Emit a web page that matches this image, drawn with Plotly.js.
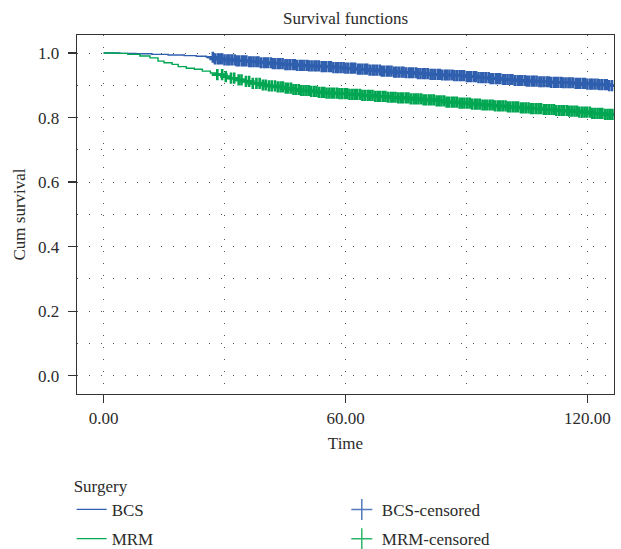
<!DOCTYPE html>
<html>
<head>
<meta charset="utf-8">
<script src="https://cdn.plot.ly/plotly-3.0.1.min.js"></script>
<style>html,body{margin:0;padding:0;background:#fff;}#chart{width:621px;height:549px;}</style>
</head>
<body>
<div id="chart"></div>
<script>
// Kaplan-Meier step points
var bcsTime = [0, 4, 8, 12, 16, 20, 23, 25.5, 27.5, 30, 33, 36, 39, 42, 45, 48, 51, 54, 57, 60, 63, 66, 69, 72, 75, 78, 81, 84, 87, 90, 93, 96, 99, 102, 105, 108, 111, 114, 117, 120, 123, 125, 126.4];
var bcsSurv = [1.0, 0.999, 0.998, 0.996, 0.994, 0.992, 0.990, 0.987, 0.982, 0.979, 0.976, 0.973, 0.970, 0.967, 0.964, 0.962, 0.960, 0.958, 0.955, 0.953, 0.950, 0.947, 0.944, 0.941, 0.939, 0.936, 0.934, 0.932, 0.930, 0.927, 0.924, 0.921, 0.918, 0.915, 0.913, 0.911, 0.909, 0.908, 0.906, 0.904, 0.902, 0.899, 0.897];

var mrmTime = [0, 3, 6, 9, 11.5, 13.5, 15, 17, 18.5, 20.5, 22.5, 24.5, 26.5, 28, 29.5, 31, 33, 35, 37, 39, 41, 43, 45, 47, 49, 51, 53, 55, 58, 61, 64, 67, 70, 73, 76, 79, 82, 85, 88, 91, 94, 97, 100, 103, 106, 109, 112, 115, 118, 121, 124, 126.4];
var mrmSurv = [1.0, 0.999, 0.996, 0.991, 0.985, 0.975, 0.970, 0.965, 0.958, 0.953, 0.950, 0.944, 0.938, 0.933, 0.927, 0.922, 0.917, 0.912, 0.906, 0.901, 0.898, 0.895, 0.891, 0.887, 0.884, 0.881, 0.878, 0.876, 0.874, 0.872, 0.869, 0.866, 0.863, 0.861, 0.858, 0.855, 0.852, 0.848, 0.845, 0.842, 0.839, 0.836, 0.833, 0.830, 0.828, 0.825, 0.822, 0.820, 0.817, 0.813, 0.810, 0.806];

// Censoring times (very dense bands)
var bcsCensor = [27.1, 27.6, 28.3, 28.8, 29.4, 30.0, 30.7, 31.2, 31.8, 32.5, 33.0, 33.6, 34.3, 34.8, 35.4, 36.1, 36.6, 37.2, 37.9, 38.4, 39.0, 39.7, 40.2, 40.8, 41.5, 42.0, 42.6, 43.3, 43.8, 44.4, 45.1, 45.6, 46.2, 46.9, 47.4, 48.0, 48.7, 49.2, 49.8, 50.5, 51.0, 51.6, 52.3, 52.8, 53.4, 54.1, 54.6, 55.2, 55.9, 56.4, 57.0, 57.7, 58.2, 58.8, 59.5, 60.0, 60.6, 61.3, 61.8, 62.4, 63.1, 63.6, 64.2, 64.9, 65.4, 66.0, 66.7, 67.2, 67.8, 68.5, 69.0, 69.6, 70.3, 70.8, 71.4, 72.1, 72.6, 73.2, 73.9, 74.4, 75.0, 75.7, 76.2, 76.8, 77.5, 78.0, 78.6, 79.3, 79.8, 80.4, 81.1, 81.6, 82.2, 82.9, 83.4, 84.0, 84.7, 85.2, 85.8, 86.5, 87.0, 87.6, 88.3, 88.8, 89.4, 90.1, 90.6, 91.2, 91.9, 92.4, 93.0, 93.7, 94.2, 94.8, 95.5, 96.0, 96.6, 97.3, 97.8, 98.4, 99.1, 99.6, 100.2, 100.9, 101.4, 102.0, 102.7, 103.2, 103.8, 104.5, 105.0, 105.6, 106.3, 106.8, 107.4, 108.1, 108.6, 109.2, 109.9, 110.4, 111.0, 111.7, 112.2, 112.8, 113.5, 114.0, 114.6, 115.3, 115.8, 116.4, 117.1, 117.6, 118.2, 118.9, 119.4, 120.0, 120.7, 121.2, 121.8, 122.5, 123.0, 123.6, 124.3, 124.8, 125.4, 126.1];
var mrmCensor = [28.2, 29.4, 30.3, 31.6, 32.4, 33.5, 34.2, 35.3, 36.1, 37.0, 37.9, 38.7, 39.5, 40.2, 41.0, 41.7, 42.5, 43.2, 43.9, 44.5, 45.2, 45.8, 46.5, 47.1, 47.7, 48.4, 49.0, 49.6, 50.3, 50.9, 51.5, 52.2, 52.8, 53.4, 54.1, 54.7, 55.3, 56.0, 56.6, 57.2, 57.9, 58.5, 59.1, 59.8, 60.4, 61.0, 61.7, 62.3, 62.9, 63.6, 64.2, 64.8, 65.5, 66.1, 66.7, 67.4, 68.0, 68.6, 69.3, 69.9, 70.5, 71.2, 71.8, 72.4, 73.1, 73.7, 74.3, 75.0, 75.6, 76.2, 76.9, 77.5, 78.1, 78.8, 79.4, 80.0, 80.7, 81.3, 81.9, 82.6, 83.2, 83.8, 84.5, 85.1, 85.7, 86.4, 87.0, 87.6, 88.3, 88.9, 89.5, 90.2, 90.8, 91.4, 92.1, 92.7, 93.3, 94.0, 94.6, 95.2, 95.9, 96.5, 97.1, 97.8, 98.4, 99.0, 99.7, 100.3, 100.9, 101.6, 102.2, 102.8, 103.5, 104.1, 104.7, 105.4, 106.0, 106.6, 107.3, 107.9, 108.5, 109.2, 109.8, 110.4, 111.1, 111.7, 112.3, 113.0, 113.6, 114.2, 114.9, 115.5, 116.1, 116.8, 117.4, 118.0, 118.7, 119.3, 119.9, 120.6, 121.2, 121.8, 122.5, 123.1, 123.7, 124.4, 125.0, 125.6, 126.2];

var seriesNames = ['BCS', 'MRM'];
var legendTitle = 'Surgery';
var xTickVals = [0, 60, 120];
var yTickVals = [0, 0.2, 0.4, 0.6, 0.8, 1.0];

// KM value at time t = survival of the last step at or before t
function stepAt(times, surv, t) {
  var v = surv[0];
  for (var i = 0; i < times.length; i++) { if (times[i] <= t) v = surv[i]; }
  return v;
}
function censorY(times, surv, cens) { return cens.map(function (t) { return stepAt(times, surv, t); }); }

var blue = '#2f5fae';
var green = '#00a651';
var blueLeg = '#5579bd';
var greenLeg = '#2db56a';
var font = 'Liberation Serif, Times New Roman, serif';
var fs = 17;
var txt = '#2b2b2b';

var traces = [
  {x: bcsTime, y: bcsSurv, name: seriesNames[0], legend: 'legend', mode: 'lines', line: {shape: 'hv', color: blue, width: 1.4}, type: 'scatter'},
  {x: bcsCensor, y: censorY(bcsTime, bcsSurv, bcsCensor), name: seriesNames[0] + '-censored', showlegend: false, mode: 'markers',
   marker: {symbol: 'cross-thin', size: 8, line: {color: blue, width: 2.6}, color: blue}, type: 'scatter'},
  {x: [null], y: [null], name: seriesNames[0] + '-censored', legend: 'legend', mode: 'markers',
   marker: {symbol: 'cross-thin', size: 15, line: {color: blueLeg, width: 1.5}, color: blueLeg}, type: 'scatter'},
  {x: mrmTime, y: mrmSurv, name: seriesNames[1], legend: 'legend2', mode: 'lines', line: {shape: 'hv', color: green, width: 1.4}, type: 'scatter'},
  {x: mrmCensor, y: censorY(mrmTime, mrmSurv, mrmCensor), name: seriesNames[1] + '-censored', showlegend: false, mode: 'markers',
   marker: {symbol: 'cross-thin', size: 8, line: {color: green, width: 2.6}, color: green}, type: 'scatter'},
  {x: [null], y: [null], name: seriesNames[1] + '-censored', legend: 'legend2', mode: 'markers',
   marker: {symbol: 'cross-thin', size: 15, line: {color: greenLeg, width: 1.5}, color: greenLeg}, type: 'scatter'}
];

var gridColor = '#555';
var gridDash = '1px,11px';

function legendBox(y, title) {
  var l = {
    orientation: 'h', x: -0.01, xanchor: 'left', xref: 'paper', y: y, yanchor: 'top', yref: 'paper',
    entrywidth: 0.44, entrywidthmode: 'fraction',
    font: {family: font, size: fs, color: txt},
    bgcolor: 'rgba(0,0,0,0)', borderwidth: 0, itemwidth: 30, traceorder: 'normal'
  };
  if (title) l.title = {text: title, side: 'top', font: {family: font, size: fs, color: txt}};
  return l;
}

var layout = {
  width: 621, height: 549,
  margin: {l: 77, r: 7, t: 35, b: 155, autoexpand: false},
  paper_bgcolor: '#fff', plot_bgcolor: '#fff',
  font: {family: font, size: fs, color: txt},
  title: {text: 'Survival functions', x: 0.5, xref: 'paper', xanchor: 'center', y: 1 - 18 / 549, yref: 'container', yanchor: 'middle', font: {family: font, size: fs, color: txt}},
  xaxis: {
    range: [-6.6, 126.6], tickvals: xTickVals, tickformat: '.2f',
    showline: true, linecolor: '#333', linewidth: 1.3, mirror: true,
    ticks: 'outside', ticklen: 8, tickcolor: '#333', tickwidth: 1.2,
    showgrid: true, gridcolor: gridColor, gridwidth: 1, griddash: gridDash,
    minor: {tickvals: [30, 90], showgrid: true, gridcolor: gridColor, gridwidth: 1, griddash: gridDash, ticks: ''},
    zeroline: false, automargin: false,
    tickfont: {family: font, size: fs, color: txt},
    title: {text: 'Time', standoff: 10, font: {family: font, size: fs, color: txt}}
  },
  yaxis: {
    range: [-0.057, 1.056], tickvals: yTickVals, tickformat: '.1f',
    showline: true, linecolor: '#333', linewidth: 1.3, mirror: true,
    ticks: 'outside', ticklen: 8, tickcolor: '#333', tickwidth: 1.2,
    ticklabelstandoff: 5,
    showgrid: true, gridcolor: gridColor, gridwidth: 1, griddash: gridDash,
    minor: {tickvals: [0.1, 0.3, 0.5, 0.7, 0.9], showgrid: true, gridcolor: gridColor, gridwidth: 1, griddash: gridDash, ticks: ''},
    zeroline: false, automargin: false,
    tickfont: {family: font, size: fs, color: txt},
    title: {text: 'Cum survival', standoff: 8, font: {family: font, size: fs, color: txt}}
  },
  showlegend: true,
  legend: legendBox(-0.211, legendTitle),
  legend2: legendBox(-0.354, null)
};

Plotly.newPlot('chart', traces, layout, {displayModeBar: false, staticPlot: true});
</script>
</body>
</html>
